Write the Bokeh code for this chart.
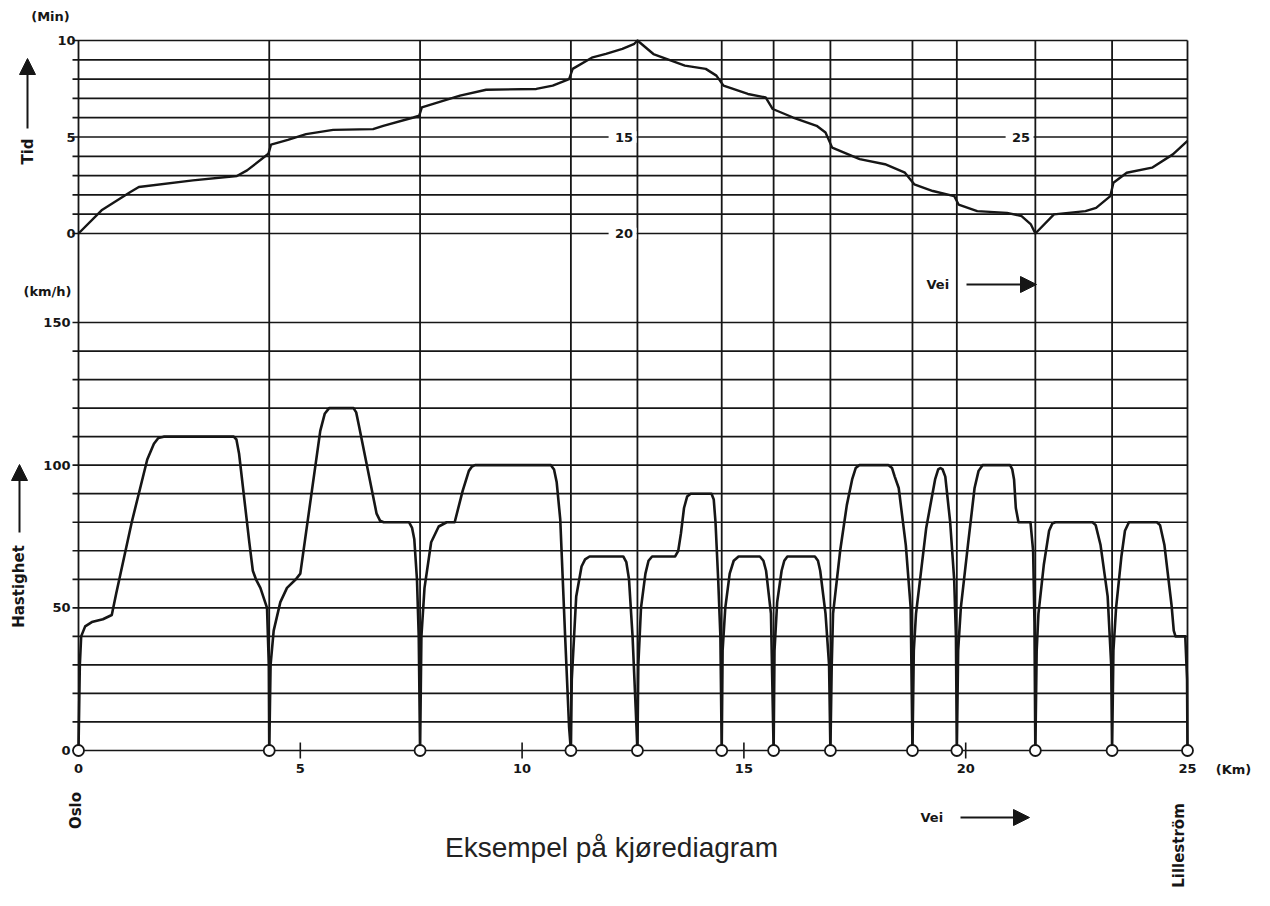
import math
from bokeh.plotting import figure
from bokeh.models import Range1d, Arrow, NormalHead
from bokeh.core.properties import value
from bokeh.embed import file_html
from bokeh.resources import INLINE

# ---------------- data ----------------
stops_km = [0, 4.3, 7.7, 11.1, 12.6, 14.5, 15.67, 16.95, 18.8, 19.8, 21.57, 23.3, 25]

speed_km = [
    0.00, 0.03, 0.06, 0.15, 0.30, 0.55, 0.75, 0.85, 1.20, 1.55, 1.70, 1.80, 1.92, 3.50, 3.56, 3.62, 3.85, 3.93, 4.00, 4.10, 4.25, 4.29, 4.30,
    4.33, 4.40, 4.55, 4.70, 4.90, 5.00, 5.45, 5.55, 5.65, 6.20, 6.26, 6.32, 6.72, 6.80, 6.88, 7.45, 7.52, 7.57, 7.63, 7.67, 7.70,
    7.73, 7.80, 7.95, 8.12, 8.30, 8.48, 8.66, 8.80, 8.87, 8.94, 10.65, 10.72, 10.78, 10.86, 10.97, 11.06, 11.10,
    11.12, 11.22, 11.34, 11.42, 11.52, 12.28, 12.35, 12.41, 12.49, 12.56, 12.60,
    12.62, 12.68, 12.78, 12.85, 12.93, 13.45, 13.52, 13.58, 13.65, 13.72, 13.80, 14.27, 14.32, 14.36, 14.42, 14.47, 14.50,
    14.52, 14.58, 14.68, 14.77, 14.88, 15.36, 15.44, 15.50, 15.61, 15.67,
    15.69, 15.75, 15.85, 15.91, 15.98, 16.60, 16.67, 16.72, 16.84, 16.92, 16.95,
    16.98, 17.01, 17.17, 17.32, 17.44, 17.52, 17.60, 18.26, 18.34, 18.40, 18.49, 18.65, 18.76, 18.80,
    18.83, 18.88, 19.11, 19.31, 19.38, 19.43, 19.48, 19.54, 19.65, 19.74, 19.78, 19.80,
    19.83, 19.89, 20.05, 20.20, 20.29, 20.38, 21.00, 21.05, 21.09, 21.13, 21.19, 21.46, 21.52, 21.55, 21.57,
    21.60, 21.64, 21.76, 21.88, 21.95, 22.02, 22.86, 22.93, 23.04, 23.20, 23.28, 23.30,
    23.33, 23.39, 23.51, 23.59, 23.68, 24.31, 24.38, 24.48, 24.64, 24.69, 24.73, 24.95, 24.99, 25.00]
speed_kmh = [
    0, 30, 40, 43.5, 45, 46, 47.5, 55, 80, 102, 107.5, 109.5, 110, 110, 109, 104, 73, 63, 60, 57, 50, 30, 0,
    30, 42, 52, 57, 60, 62, 112, 118, 120, 120, 118.5, 114, 83, 80.5, 80, 80, 78, 74, 60, 40, 0,
    40, 57, 73, 78.5, 80, 80, 91, 98, 99.5, 100, 100, 98.5, 94, 81, 40, 8, 0,
    25, 54, 64.5, 67, 68, 68, 66, 60, 40, 15, 0,
    30, 50, 62, 66.5, 68, 68, 70, 76, 85, 89, 90, 90, 88, 80, 60, 40, 0,
    35, 50, 62, 66.5, 68, 68, 66.5, 63, 48, 0,
    35, 52, 63, 66.5, 68, 68, 66.5, 63, 48, 30, 0,
    30, 48, 70, 86, 95, 99, 100, 100, 99, 96, 92, 72, 50, 0,
    35, 48, 78, 95, 98.5, 99, 98.5, 96, 80, 60, 40, 0,
    35, 50, 72, 92, 98, 100, 100, 98.5, 95, 85, 80, 80, 70, 45, 0,
    35, 48, 65, 77, 79.5, 80, 80, 79, 72, 54, 30, 0,
    35, 50, 68, 77, 80, 80, 79, 72, 51, 42, 40, 40, 25, 0]

# time curve as drawn (folded scale: 0-10 up, 10-20 down, 20-30 up)
time_km = [0, 0.52, 1.17, 1.36, 2.58, 3.57, 3.80, 4.28, 4.34, 4.72, 5.13, 5.74, 6.64, 6.87, 7.55, 7.68, 7.74,
           8.60, 9.19, 10.32, 10.69, 11.06, 11.14, 11.59, 11.89, 12.26, 12.53, 12.60, 12.96, 13.67, 14.14,
           14.38, 14.54, 15.09, 15.49, 15.65, 16.11, 16.64, 16.84, 16.99, 17.61, 18.18, 18.63, 18.84, 19.26,
           19.74, 19.84, 20.26, 20.93, 21.26, 21.47, 21.57, 21.99, 22.70, 22.94, 23.26, 23.33, 23.63, 24.20,
           24.67, 25.00]
time_min = [0, 1.2, 2.15, 2.41, 2.75, 2.98, 3.27, 4.13, 4.6, 4.85, 5.15, 5.37, 5.41, 5.58, 6.01, 6.1, 6.53,
            7.14, 7.45, 7.49, 7.66, 8.0, 8.53, 9.13, 9.31, 9.57, 9.83, 10.0, 9.3, 8.7, 8.53,
            8.18, 7.66, 7.23, 7.05, 6.45, 6.01, 5.58, 5.23, 4.45, 3.85, 3.59, 3.15, 2.55, 2.2,
            1.94, 1.5, 1.16, 1.07, 0.9, 0.47, 0.0, 0.99, 1.16, 1.33, 1.94, 2.63, 3.15, 3.41,
            4.1, 4.8]

km_ticks = [0, 5, 10, 15, 20, 25]
speed_ticks = [0, 50, 100, 150]
speed_grid = list(range(0, 151, 10))
time_ticks = [0, 5, 10]
time_grid = list(range(0, 11))
fold_labels = ["15", "20", "25"]
fold_label_km = [12.5, 12.5, 21.45]
fold_label_min = [5, 0, 5]

# ---------------- layout (picture pixels) ----------------
W, H = 1262, 898
X0_PX, KM_PX = 78.0, 44.36     # px of km 0, px per km
V0_PX, V_PX = 750.0, 2.8533    # px of 0 km/h, px per km/h
T0_PX, T_PX = 233.0, 19.3      # px of 0 min, px per min
INK = "#161616"
FONT = value("DejaVu Sans")


def kx(px):   # picture x -> km
    return (px - X0_PX) / KM_PX


def vy(py):   # picture y -> km/h units
    return (V0_PX - py) / V_PX


def ty(py):   # picture y -> minutes
    return (T0_PX - py) / T_PX


p = figure(width=W, height=H, x_range=Range1d(kx(0), kx(W)),
           y_range=Range1d(vy(H), vy(0)),
           output_backend="svg", toolbar_location=None,
           x_axis_type=None, y_axis_type=None, min_border=0,
           outline_line_color=None, background_fill_color="white",
           border_fill_color="white")
p.extra_y_ranges = {"time": Range1d(ty(H), ty(0))}

tick_left = kx(72)
v_top = vy(T0_PX - 10 * T_PX)

# horizontal grids
p.segment(x0=[tick_left] * len(speed_grid), y0=speed_grid, x1=[25] * len(speed_grid), y1=speed_grid,
          line_color=INK, line_width=1.7)
p.segment(x0=[tick_left] * len(time_grid), y0=time_grid, x1=[25] * len(time_grid), y1=time_grid,
          line_color=INK, line_width=1.7, y_range_name="time")
# vertical lines at the stops
p.segment(x0=stops_km, y0=[0] * len(stops_km), x1=stops_km, y1=[v_top] * len(stops_km),
          line_color=INK, line_width=1.8)
# small ticks on the distance axis
mid_ticks = km_ticks[1:-1]
p.segment(x0=mid_ticks, y0=[-2.8] * len(mid_ticks), x1=mid_ticks, y1=[2.8] * len(mid_ticks),
          line_color=INK, line_width=1.6)

# gaps behind fold labels
p.quad(left=[x - 0.55 for x in fold_label_km], right=[x + 0.08 for x in fold_label_km],
       bottom=[m - 0.3 for m in fold_label_min], top=[m + 0.3 for m in fold_label_min],
       fill_color="white", line_color=None, y_range_name="time")

# curves
p.line(speed_km, speed_kmh, line_color=INK, line_width=2.6, line_join="round")
p.line(time_km, time_min, line_color=INK, line_width=2.4, line_join="round", y_range_name="time")

# stop markers
p.scatter(stops_km, [0] * len(stops_km), size=11, fill_color="white", line_color=INK, line_width=1.8)

# tick labels
lab = dict(text_font=FONT, text_font_style="bold", text_font_size="13px", text_color=INK)
p.text(x=[kx(70)] * len(speed_ticks), y=speed_ticks, text=[str(v) for v in speed_ticks],
       text_align="right", text_baseline="middle", **lab)
p.text(x=[kx(75)] * len(time_ticks), y=time_ticks, text=[str(v) for v in time_ticks],
       text_align="right", text_baseline="middle", y_range_name="time", **lab)
p.text(x=km_ticks, y=[vy(768)] * len(km_ticks), text=[str(v) for v in km_ticks],
       text_align="center", text_baseline="middle", **lab)
p.text(x=fold_label_km, y=fold_label_min, text=fold_labels, text_align="right",
       text_baseline="middle", y_range_name="time", **lab)

# unit labels
p.text(x=[kx(50)], y=[vy(16)], text=["(Min)"], text_align="center", text_baseline="middle", **lab)
p.text(x=[kx(47)], y=[vy(291)], text=["(km/h)"], text_align="center", text_baseline="middle", **lab)
p.text(x=[kx(1233)], y=[vy(769)], text=["(Km)"], text_align="center", text_baseline="middle", **lab)

# rotated labels
rot = dict(angle=math.pi / 2, text_align="center", text_baseline="middle", text_font=FONT,
           text_font_style="bold", text_font_size="15px", text_color=INK)
p.text(x=[kx(27)], y=[vy(151)], text=["Tid"], **rot)
p.text(x=[kx(18)], y=[vy(586)], text=["Hastighet"], **rot)
p.text(x=[kx(75)], y=[vy(810)], text=["Oslo"], **rot)
p.text(x=[kx(1178)], y=[vy(845)], text=["Lilleström"], **rot)

# "Vei" labels with arrows
p.text(x=[kx(926), kx(920)], y=[vy(284), vy(817)], text=["Vei", "Vei"], text_align="left",
       text_baseline="middle", **lab)


def arrow(x0, y0, x1, y1):
    p.add_layout(Arrow(end=NormalHead(size=16, fill_color=INK, line_color=INK, line_width=1),
                       x_start=kx(x0), y_start=vy(y0), x_end=kx(x1), y_end=vy(y1),
                       line_color=INK, line_width=2))


arrow(966, 284, 1036, 284)
arrow(960, 817, 1029, 817)
arrow(27, 128, 27, 58)
arrow(19, 532, 19, 464)

# caption
p.text(x=[kx(611)], y=[vy(847)], text=["Eksempel på kjørediagram"], text_align="center",
       text_baseline="middle", text_font=value("Liberation Sans"), text_font_size="28px",
       text_color="#222222")

open("out.html", "w").write(file_html(p, INLINE))
